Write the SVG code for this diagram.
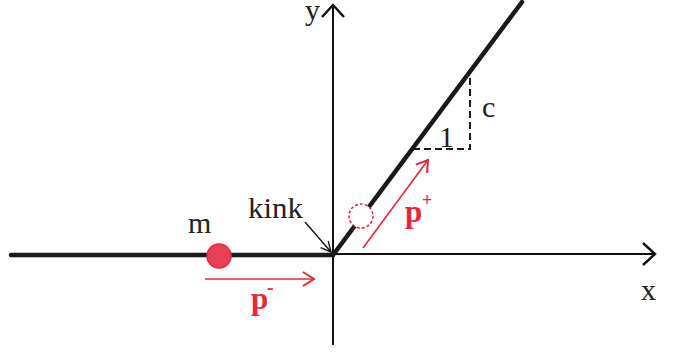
<svg xmlns="http://www.w3.org/2000/svg" width="675" height="352" viewBox="0 0 675 352">
<style>
.t{font-family:"Liberation Serif","Times New Roman",serif;fill:#222;font-size:30px}
.r{font-family:"Liberation Serif","Times New Roman",serif;fill:#e8263a;font-weight:bold}
.ax{stroke:#111;stroke-width:2;fill:none}
.thick{stroke:#1a1a1a;stroke-width:4.5;fill:none;stroke-linecap:round}
.dash{stroke:#1a1a1a;stroke-width:2;fill:none;stroke-dasharray:7 4}
.ra{stroke:#e8263a;stroke-width:1.6;fill:none}
</style>
<defs>
<marker id="ka" markerUnits="userSpaceOnUse" markerWidth="16" markerHeight="24" refX="13" refY="12" orient="auto" overflow="visible">
<path d="M1,1 L13,12 L1,23" stroke="#111" stroke-width="2.4" fill="none"/>
</marker>
<marker id="ra" markerUnits="userSpaceOnUse" markerWidth="14" markerHeight="18" refX="12" refY="8" orient="auto" overflow="visible">
<path d="M1,1 L12,8 L1,15" stroke="#e8263a" stroke-width="2" fill="none"/>
</marker>
<marker id="sa" markerUnits="userSpaceOnUse" markerWidth="12" markerHeight="12" refX="10" refY="5" orient="auto" overflow="visible">
<path d="M0,0 L10,5 L0,10" stroke="#111" stroke-width="1.4" fill="none"/>
</marker>
</defs>
<g id="connectors">
<line id="x-axis" class="ax" x1="333" y1="254" x2="655" y2="254" marker-end="url(#ka)"/>
<line id="y-axis" class="ax" x1="333" y1="345" x2="333" y2="5" marker-end="url(#ka)"/>
<line id="left-branch" class="thick" x1="11" y1="255" x2="333" y2="255"/>
<line id="right-branch" class="thick" x1="333" y1="255" x2="522" y2="2"/>
<path id="slope-triangle" class="dash" d="M413,149 L470,149 L470,75"/>
<line id="p-minus-arrow" class="ra" x1="205" y1="279" x2="314" y2="279" marker-end="url(#ra)"/>
<line id="p-plus-arrow" class="ra" x1="363" y1="248" x2="428" y2="160" marker-end="url(#ra)"/>
<line id="kink-arrow" stroke="#111" stroke-width="1.4" x1="305" y1="222" x2="331" y2="252" marker-end="url(#sa)"/>
</g>
<g id="particle-m">
<circle cx="219" cy="256" r="12" fill="#e84058" stroke="#e8263a" stroke-width="1.5"/>
<text class="t" x="188" y="233">m</text>
</g>
<g id="particle-ghost">
<circle cx="361" cy="216" r="12" fill="#fff" stroke="#e8263a" stroke-width="1.5" stroke-dasharray="3 2"/>
</g>
<g id="labels">
<text class="t" x="248" y="218" textLength="55" lengthAdjust="spacingAndGlyphs">kink</text>
<text class="t" x="305" y="20">y</text>
<text class="t" x="641" y="300">x</text>
<text class="t" x="482" y="117">c</text>
<text class="t" x="439" y="147">1</text>
<text class="r" x="251" y="309" font-size="31">p</text>
<text class="r" x="267" y="294" font-size="20">-</text>
<text class="r" x="405" y="222" font-size="31">p</text>
<text class="r" x="422" y="206" font-size="18">+</text>
</g>
</svg>
